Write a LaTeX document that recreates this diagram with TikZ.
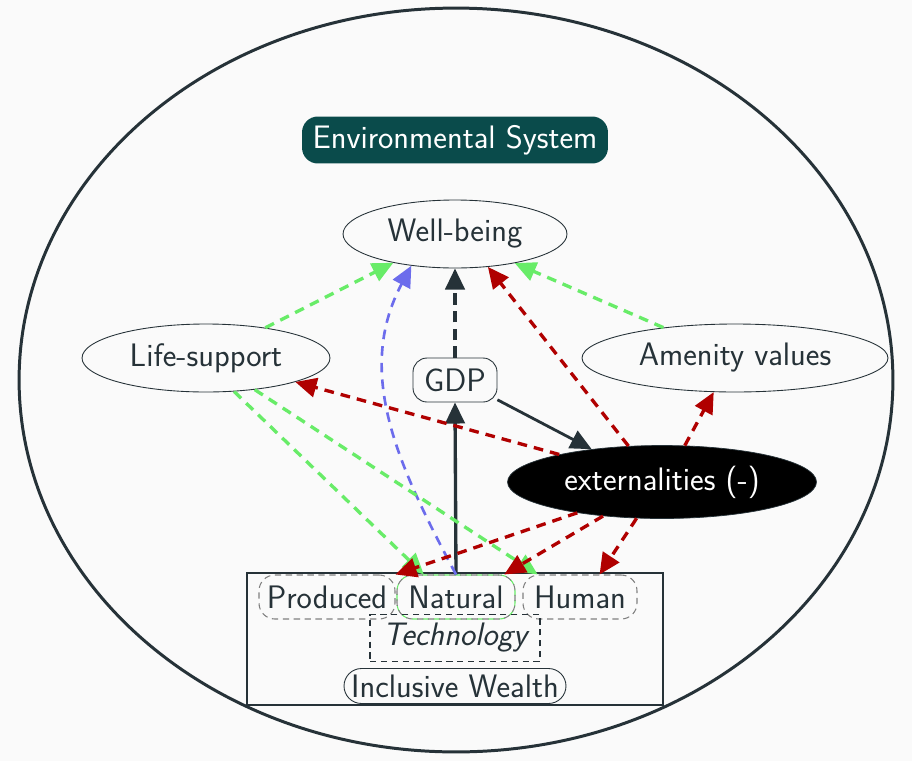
\documentclass[tikz,border=0pt]{standalone}
\usepackage{xcolor}
\usepackage{tikz}
\usetikzlibrary{arrows.meta,shapes.geometric}
\definecolor{bgwhite}{RGB}{250,250,250}
\definecolor{inkgray}{RGB}{38,50,56}
\definecolor{envteal}{RGB}{10,75,75}
\definecolor{fxred}{RGB}{176,0,0}
\definecolor{fxgreen}{RGB}{104,236,104}
\definecolor{fxblue}{RGB}{108,108,236}

\begin{document}
\begin{tikzpicture}[x=0.02cm, y=-0.02cm, text=inkgray,
  font=\sffamily\fontsize{18.5}{22}\selectfont,
  oval/.style={ellipse, draw=inkgray, line width=0.5pt, inner sep=0pt, minimum height=1.36cm},
  stock/.style={draw=gray, dashed, dash pattern=on 3.6pt off 2.6pt, line width=0.6pt,
    rounded corners=9pt, inner sep=0pt, minimum height=0.88cm},
  tip/.style={-{Triangle[length=12pt, width=11pt]}},
  link/.style={tip, line width=1.9pt, dash pattern=on 5.5pt off 4pt},
]
\fill[bgwhite] (0,0) rectangle (912,761);
\useasboundingbox (0,0) rectangle (912,761);

% Environment around everything
\draw[inkgray, line width=1.7pt] (456,380) ellipse [x radius=8.74cm, y radius=7.44cm];
\node[fill=envteal, text=white, rounded corners=9pt, inner sep=0pt,
      minimum width=6.12cm, minimum height=0.94cm] (env) at (455,140) {Environmental System};

% Outcomes
\node[oval, minimum width=4.48cm] (wb) at (455,234) {Well-being};
\node[oval, minimum width=4.96cm] (ls) at (206,358) {Life-support};
\node[oval, minimum width=6.12cm] (av) at (735,358) {Amenity values};
\node[draw=inkgray, line width=0.5pt, rounded corners=8pt, inner sep=0pt,
      minimum width=1.68cm, minimum height=0.88cm] (gdp) at (455,380) {GDP};
\node[ellipse, fill=black, draw=inkgray, text=white, inner sep=0pt,
      minimum width=6.18cm, minimum height=1.46cm] (ext) at (662,482) {externalities (-)};

% Inclusive wealth and its capital stocks
\draw[inkgray, line width=0.6pt] (247,573) rectangle (663,705);
\node[stock, minimum width=2.72cm] (prod) at (327,597) {Produced};
\node[stock, minimum width=2.36cm,
      preaction={draw=fxgreen, dash pattern=on 3.6pt off 2.6pt, dash phase=3pt}] (nat) at (456,597) {Natural};
\node[stock, minimum width=2.28cm] (hum) at (580,597) {Human};
\node[draw=inkgray, dash pattern=on 3.6pt off 2.6pt, line width=0.6pt, inner sep=0pt,
      minimum width=3.4cm, minimum height=0.94cm, font=\sffamily\itshape\fontsize{18.5}{22}\selectfont] (tech) at (455,638) {Technology};
\node[draw=inkgray, line width=0.5pt, rounded corners=0.35cm, inner sep=0pt,
      minimum width=4.44cm, minimum height=0.70cm] (iw) at (455,686) {Inclusive Wealth};

% Production and consumption
\draw[tip, inkgray, line width=1.9pt] (nat.north) -- (gdp.south);
\draw[link, inkgray, dash pattern=on 6.5pt off 3.5pt] (gdp.north) -- (wb.south);
\draw[tip, inkgray, line width=1.6pt] (gdp.-25) -- (ext.155);
\draw[link, fxblue, line width=1.5pt] (nat.north) to[out=118, in=-118] (wb.-144);

% Services of nature (positive)
\foreach \from/\to in {ls.27/wb.205, av.157/wb.-26, ls.-50/nat.145, ls.-33/hum.152} {
    \draw[link, fxgreen] (\from) -- (\to);
}

% Externalities (negative)
\foreach \from/\to in {ext.165/ls.-15, ext.133/wb.-45, ext.58/av.-122,
                       ext.-160/prod.north east, ext.-150/nat.25, ext.-125/hum.49} {
    \draw[link, fxred] (\from) -- (\to);
}
\end{tikzpicture}
\end{document}
